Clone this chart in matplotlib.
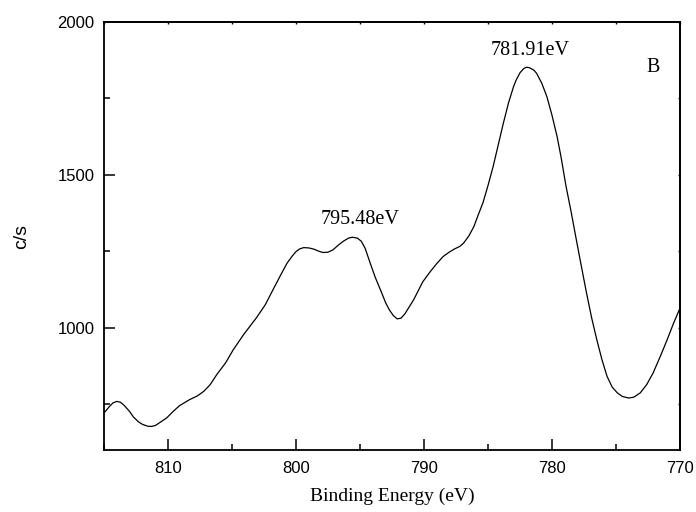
import matplotlib.pyplot as plt
from matplotlib.ticker import MultipleLocator

# binding energy (eV) and counts per second
energy = [815.0, 814.6, 814.3, 814.0, 813.7, 813.4, 813.0, 812.7, 812.3,
          812.0, 811.6, 811.3, 811.0, 810.7, 810.1,
          809.6, 809.1, 808.3, 807.7, 807.2, 806.7, 806.2, 805.5, 804.9,
          804.1, 803.1, 802.4, 801.8, 801.2, 800.7, 800.3, 800.0, 799.7,
          799.4, 799.0, 798.6, 798.2, 797.9, 797.5, 797.1, 796.7,
          796.3, 795.9, 795.6, 795.2, 794.9, 794.6, 794.2, 793.8, 793.4,
          793.0, 792.7, 792.4, 792.1, 791.8, 791.5, 791.2, 790.8,
          790.4, 790.1, 789.5, 789.0, 788.5, 788.0, 787.6, 787.2, 786.9,
          786.5, 786.1, 785.8, 785.4, 785.0, 784.6, 784.2, 783.8, 783.4,
          783.0, 782.8, 782.5, 782.2, 782.0, 781.8, 781.6, 781.4, 781.2,
          780.8, 780.4, 780.0, 779.6, 779.3, 778.9, 778.5, 778.1, 777.7,
          777.3, 776.9, 776.5, 776.1, 775.7, 775.3, 774.9, 774.5, 774.0,
          773.6, 773.1, 772.6, 772.1, 771.5, 771.0, 770.5, 770.0]
counts = [721, 741, 754, 759, 756, 745, 726, 708, 692,
          684, 678, 677, 680, 688, 705,
          726, 745, 765, 777, 792, 814, 846, 885, 928,
          977, 1032, 1075, 1124, 1172, 1211, 1234, 1249, 1258,
          1262, 1261, 1257, 1250, 1246, 1247, 1255, 1270,
          1283, 1293, 1296, 1293, 1283, 1260, 1211, 1164, 1124,
          1082, 1058, 1040, 1029, 1031, 1045, 1065, 1092,
          1125, 1150, 1184, 1210, 1233, 1248, 1258, 1266, 1277,
          1300, 1331, 1365, 1408, 1465, 1527, 1598, 1669, 1735,
          1789, 1810, 1834, 1848, 1852, 1851, 1847, 1842, 1832,
          1800, 1756, 1695, 1625, 1560, 1462, 1378, 1288, 1200,
          1113, 1032, 961, 896, 841, 806, 787, 775, 770,
          773, 787, 814, 852, 910, 961, 1015, 1064]

peak_labels = ["795.48eV", "781.91eV"]
peak_text_x = [795.0, 781.7]
peak_text_y = [1355, 1908]

fig = plt.figure(figsize=(6.96, 5.12), dpi=100)
ax = fig.add_axes([0.1494, 0.1211, 0.8276, 0.8359])

ax.plot(energy, counts, color="black", linewidth=0.9)

ax.set_xlim(815, 770)
ax.set_ylim(600, 2000)

ax.xaxis.set_major_locator(MultipleLocator(10))
ax.xaxis.set_minor_locator(MultipleLocator(5))
ax.yaxis.set_major_locator(MultipleLocator(500))
ax.yaxis.set_minor_locator(MultipleLocator(250))
ax.tick_params(which="both", direction="in", width=1.1,
               labelsize=12, labelfontfamily="Liberation Sans")
ax.tick_params(which="major", length=8)
ax.tick_params(which="minor", length=4)
ax.tick_params(axis="y", which="major", pad=7)
ax.tick_params(axis="x", which="major", pad=8)
# tiny stubs on the top and right frame
ax2 = ax.secondary_xaxis("top")
ax2.xaxis.set_major_locator(MultipleLocator(5))
ax2.tick_params(direction="in", length=1.5, width=1.0, labeltop=False)
ax3 = ax.secondary_yaxis("right")
ax3.yaxis.set_major_locator(MultipleLocator(250))
ax3.tick_params(direction="in", length=1.5, width=1.0, labelright=False)
for s in list(ax.spines.values()) + [ax2.spines["top"], ax3.spines["right"]]:
    s.set_linewidth(1.3)

ax.set_xlabel("Binding Energy (eV)", family="Liberation Serif", fontsize=14, labelpad=8)
ax.set_ylabel("c/s", family="Liberation Sans", fontsize=14)
ax.yaxis.set_label_coords(-0.128, 0.5)

for lab, tx, ty in zip(peak_labels, peak_text_x, peak_text_y):
    ax.text(tx, ty, lab, ha="center", va="center", family="Liberation Serif", fontsize=14.5)
ax.text(772.1, 1852, "B", ha="center", va="center", family="Liberation Serif", fontsize=14.5)

fig.savefig("out.png", dpi=100)
